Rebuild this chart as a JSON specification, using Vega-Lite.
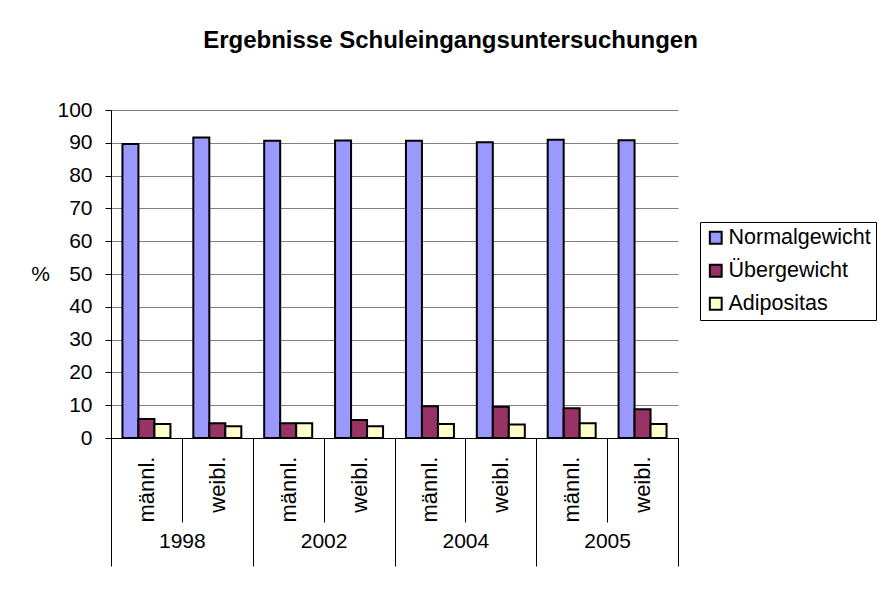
{
  "$schema": "https://vega.github.io/schema/vega-lite/v6.json",
  "autosize": {"type": "none"},
  "width": 567,
  "height": 328,
  "padding": {"left": 111, "top": 110, "right": 204, "bottom": 152},
  "background": "white",
  "title": {
    "text": "Ergebnisse Schuleingangsuntersuchungen",
    "font": "Liberation Sans",
    "fontSize": 24,
    "fontWeight": "bold",
    "color": "black",
    "anchor": "middle",
    "frame": "group",
    "dx": 56,
    "baseline": "bottom",
    "offset": 22
  },
  "config": {
    "font": "Liberation Sans",
    "view": {"stroke": null}
  },
  "data": {
    "values": [
      {"jahr": "1998", "gruppe": "1998 männl.", "serie": "Normalgewicht", "wert": 89.6},
      {"jahr": "1998", "gruppe": "1998 männl.", "serie": "Übergewicht", "wert": 5.8},
      {"jahr": "1998", "gruppe": "1998 männl.", "serie": "Adipositas", "wert": 4.3},
      {"jahr": "1998", "gruppe": "1998 weibl.", "serie": "Normalgewicht", "wert": 91.6},
      {"jahr": "1998", "gruppe": "1998 weibl.", "serie": "Übergewicht", "wert": 4.5},
      {"jahr": "1998", "gruppe": "1998 weibl.", "serie": "Adipositas", "wert": 3.6},
      {"jahr": "2002", "gruppe": "2002 männl.", "serie": "Normalgewicht", "wert": 90.6},
      {"jahr": "2002", "gruppe": "2002 männl.", "serie": "Übergewicht", "wert": 4.5},
      {"jahr": "2002", "gruppe": "2002 männl.", "serie": "Adipositas", "wert": 4.5},
      {"jahr": "2002", "gruppe": "2002 weibl.", "serie": "Normalgewicht", "wert": 90.7},
      {"jahr": "2002", "gruppe": "2002 weibl.", "serie": "Übergewicht", "wert": 5.5},
      {"jahr": "2002", "gruppe": "2002 weibl.", "serie": "Adipositas", "wert": 3.6},
      {"jahr": "2004", "gruppe": "2004 männl.", "serie": "Normalgewicht", "wert": 90.6},
      {"jahr": "2004", "gruppe": "2004 männl.", "serie": "Übergewicht", "wert": 9.7},
      {"jahr": "2004", "gruppe": "2004 männl.", "serie": "Adipositas", "wert": 4.3},
      {"jahr": "2004", "gruppe": "2004 weibl.", "serie": "Normalgewicht", "wert": 90.2},
      {"jahr": "2004", "gruppe": "2004 weibl.", "serie": "Übergewicht", "wert": 9.5},
      {"jahr": "2004", "gruppe": "2004 weibl.", "serie": "Adipositas", "wert": 4.1},
      {"jahr": "2005", "gruppe": "2005 männl.", "serie": "Normalgewicht", "wert": 90.9},
      {"jahr": "2005", "gruppe": "2005 männl.", "serie": "Übergewicht", "wert": 9.1},
      {"jahr": "2005", "gruppe": "2005 männl.", "serie": "Adipositas", "wert": 4.5},
      {"jahr": "2005", "gruppe": "2005 weibl.", "serie": "Normalgewicht", "wert": 90.8},
      {"jahr": "2005", "gruppe": "2005 weibl.", "serie": "Übergewicht", "wert": 8.8},
      {"jahr": "2005", "gruppe": "2005 weibl.", "serie": "Adipositas", "wert": 4.3}
    ]
  },
  "layer": [
    {
      "mark": {"type": "bar", "stroke": "black", "strokeWidth": 2},
      "encoding": {
        "x": {
          "field": "gruppe",
          "type": "nominal",
          "sort": null,
          "scale": {"paddingInner": 0, "paddingOuter": 0},
          "axis": {
            "orient": "bottom",
            "title": null,
            "tickBand": "extent",
            "tickSize": 84,
            "tickColor": "black",
            "domainColor": "black",
            "labelExpr": "split(datum.label, ' ')[1]",
            "labelAngle": 270,
            "labelAlign": "right",
            "labelBaseline": "middle",
            "labelPadding": -66,
            "labelFontSize": 22,
            "labelColor": "black",
            "labelFont": "Liberation Sans"
          }
        },
        "xOffset": {
          "field": "serie",
          "type": "nominal",
          "sort": ["Normalgewicht", "Übergewicht", "Adipositas"],
          "scale": {"paddingInner": 0, "paddingOuter": 0.715}
        },
        "y": {
          "field": "wert",
          "type": "quantitative",
          "scale": {"domain": [0, 100], "nice": false},
          "axis": {
            "title": "%",
            "titleAngle": 0,
            "titleAlign": "center",
            "titleBaseline": "middle",
            "titleX": -71,
            "titleY": 164,
            "titleFontSize": 21,
            "titleFontWeight": "normal",
            "titleColor": "black",
            "titleFont": "Liberation Sans",
            "values": [0, 10, 20, 30, 40, 50, 60, 70, 80, 90, 100],
            "tickSize": 6,
            "tickColor": "black",
            "domainColor": "black",
            "gridColor": "#808080",
            "gridOpacity": 1,
            "labelFontSize": 21,
            "labelColor": "black",
            "labelPadding": 13,
            "labelFont": "Liberation Sans"
          }
        },
        "color": {
          "field": "serie",
          "type": "nominal",
          "sort": ["Normalgewicht", "Übergewicht", "Adipositas"],
          "scale": {
            "domain": ["Normalgewicht", "Übergewicht", "Adipositas"],
            "range": ["#9999FF", "#993366", "#FFFFCC"]
          },
          "legend": {
            "title": null,
            "orient": "none",
            "legendX": 589,
            "legendY": 112,
            "symbolType": "square",
            "symbolSize": 140,
            "symbolStrokeColor": "black",
            "symbolStrokeWidth": 2,
            "symbolOpacity": 1,
            "labelFontSize": 21.5,
            "labelColor": "black",
            "labelFont": "Liberation Sans",
            "labelOffset": 2,
            "rowPadding": 10,
            "padding": 5,
            "strokeColor": "black",
            "fillColor": "white"
          }
        }
      }
    },
    {
      "mark": {"type": "tick", "opacity": 0},
      "encoding": {
        "x": {
          "field": "jahr",
          "type": "nominal",
          "sort": null,
          "scale": {"paddingInner": 0, "paddingOuter": 0},
          "axis": {
            "orient": "bottom",
            "title": null,
            "tickBand": "extent",
            "tickSize": 128,
            "tickColor": "black",
            "domain": false,
            "labelAngle": 0,
            "labelAlign": "center",
            "labelBaseline": "top",
            "labelPadding": -36,
            "labelFontSize": 21,
            "labelColor": "black",
            "labelFont": "Liberation Sans"
          }
        }
      }
    }
  ],
  "resolve": {"scale": {"x": "independent"}, "axis": {"x": "independent"}}
}
